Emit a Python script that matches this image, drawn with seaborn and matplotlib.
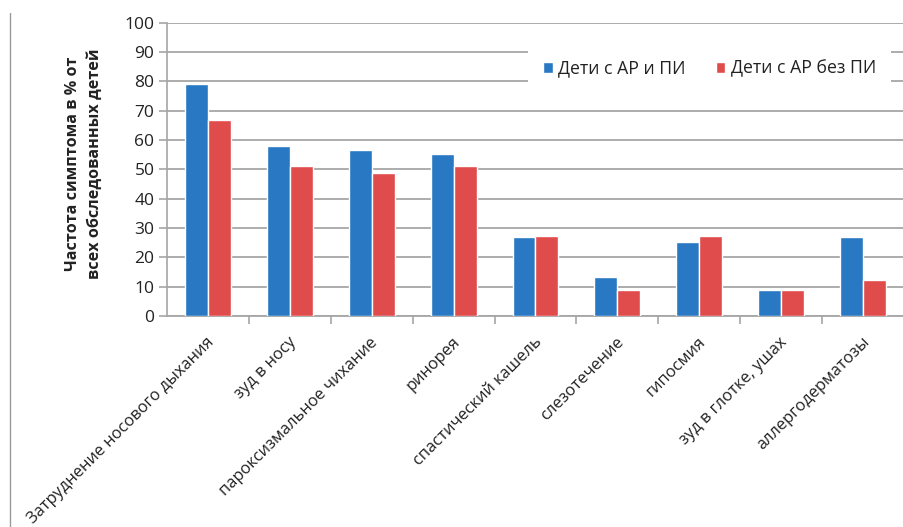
import matplotlib
matplotlib.use("Agg")
import matplotlib.pyplot as plt
import matplotlib.transforms as mtransforms
from matplotlib.lines import Line2D
import seaborn as sns
import pandas as pd

symptoms = [
    "Затруднение носового дыхания",
    "зуд в носу",
    "пароксизмальное чихание",
    "ринорея",
    "спастический кашель",
    "слезотечение",
    "гипосмия",
    "зуд в глотке, ушах",
    "аллергодерматозы",
]
series_names = ["Дети с АР и ПИ", "Дети с АР без ПИ"]
with_pi = [79.0, 58.1, 56.6, 55.3, 26.8, 13.2, 25.3, 8.9, 26.8]
without_pi = [66.7, 51.3, 48.6, 51.3, 27.4, 8.9, 27.4, 8.9, 12.1]
y_ticks = [0, 10, 20, 30, 40, 50, 60, 70, 80, 90, 100]
y_label = "Частота симптома в % от\nвсех обследованных детей"

df = pd.DataFrame({
    "symptom": symptoms * 2,
    "group": [series_names[0]] * len(symptoms) + [series_names[1]] * len(symptoms),
    "value": with_pi + without_pi,
})

sns.set_theme(style="white")
plt.rcParams["font.family"] = ["Open Sans", "DejaVu Sans"]

grid_col = "#a6a6a6"
text_col = "#222222"
fig = plt.figure(figsize=(9.04, 5.27), dpi=100)
ax = fig.add_axes([0.1847, 0.4004, 0.8153, 0.5566])

sns.barplot(
    data=df, x="symptom", y="value", hue="group",
    order=symptoms, hue_order=series_names,
    palette=["#2878c4", "#e04b4b"], width=0.56, gap=0,
    saturation=1, errorbar=None, ax=ax, zorder=3,
)

ax.set_ylim(0, 100)
ax.set_xlim(-0.5, len(symptoms) - 0.5)
ax.set_yticks(y_ticks)
ax.yaxis.grid(True, color=grid_col, linewidth=1.3, zorder=0)
ax.set_axisbelow(True)
for side in ["top", "right"]:
    ax.spines[side].set_visible(False)
ax.spines["left"].set_color(grid_col)
ax.spines["bottom"].set_color(grid_col)
ax.spines["left"].set_linewidth(1.2)
ax.spines["bottom"].set_linewidth(1.3)
ax.tick_params(axis="y", which="both", left=True, length=6, width=1.2,
               color=grid_col, labelsize=12.5, labelcolor=text_col, pad=3)

# category ticks sit between the bar groups
ax.set_xticks([i + 0.5 for i in range(len(symptoms))], minor=True)
ax.tick_params(axis="x", which="minor", bottom=True, length=6, width=1.2,
               color=grid_col, direction="out")
ax.tick_params(axis="x", which="major", bottom=False, length=0, pad=0)
ax.set_xticks(range(len(symptoms)))
ax.set_xticklabels(symptoms, rotation=45, ha="right", va="center",
                   rotation_mode="anchor", fontsize=11.9, color=text_col)
offset = mtransforms.ScaledTranslation(4 / 100, -24 / 100, fig.dpi_scale_trans)
for lbl in ax.get_xticklabels():
    lbl.set_transform(lbl.get_transform() + offset)

ax.set_xlabel("")
ax.set_ylabel(y_label, fontsize=11.6, fontweight="bold", color=text_col,
              linespacing=1.5)
ax.yaxis.set_label_coords(-0.087, 0.52)

leg = ax.legend(loc="upper left", bbox_to_anchor=(0.49, 0.925), ncol=2,
                frameon=True, fancybox=False, framealpha=1, edgecolor="white",
                fontsize=12.7, handlelength=0.55, handleheight=0.55,
                handletextpad=0.3, columnspacing=1.7, borderpad=0.85,
                borderaxespad=0)
leg.get_frame().set_linewidth(0)
for t in leg.get_texts():
    t.set_color(text_col)

# thin rule along the left edge of the figure
fig.add_artist(Line2D([0.0116, 0.0116], [0.0, 0.975], transform=fig.transFigure,
                      color="#9a9a9a", linewidth=1.0))

fig.savefig("out.png", dpi=100)
